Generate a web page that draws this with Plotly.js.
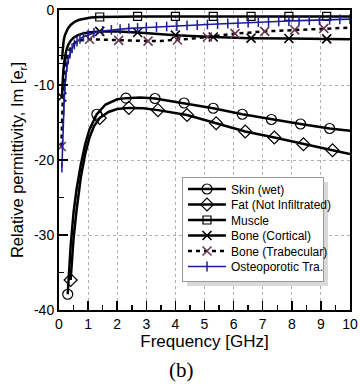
<!DOCTYPE html>
<html>
<head>
<meta charset="utf-8">
<script src="https://cdn.plot.ly/plotly-3.0.1.min.js"></script>
<style>html,body{margin:0;padding:0;background:#fff;}#chart{width:360px;height:391px;}</style>
</head>
<body>
<div id="chart"></div>
<script>
// ---- data ----
const seriesNames = ["Skin (wet)", "Fat (Not Infiltrated)", "Muscle", "Bone (Cortical)", "Bone (Trabecular)", "Osteoporotic Tra."];

const skinFreq = [0.3, 0.35, 0.4, 0.5, 0.6, 0.75, 0.9, 1.05, 1.3, 1.6, 2.0, 2.3, 2.8, 3.3, 4.3, 5.3, 6.3, 7.3, 8.3, 9.3, 10];
const skinIm   = [-37.9, -34.5, -31.5, -27.0, -24.0, -20.6, -17.9, -15.9, -13.9, -12.6, -11.9, -11.75, -11.65, -11.8, -12.4, -13.1, -13.9, -14.6, -15.2, -15.8, -16.1];
const skinMarkFreq = [0.3, 1.3, 2.3, 3.3, 4.3, 5.3, 6.3, 7.3, 8.3, 9.3];

const fatFreq = [0.4, 0.45, 0.5, 0.6, 0.75, 0.9, 1.05, 1.2, 1.4, 1.7, 2.0, 2.4, 2.9, 3.4, 4.4, 5.4, 6.4, 7.4, 8.4, 9.4, 10];
const fatIm   = [-36.0, -33.0, -30.5, -26.8, -22.3, -19.2, -17.0, -15.5, -14.4, -13.6, -13.2, -13.05, -13.1, -13.35, -14.0, -15.1, -16.2, -17.0, -17.9, -18.7, -19.2];
const fatMarkFreq = [0.4, 1.4, 2.4, 3.4, 4.4, 5.4, 6.4, 7.4, 8.4, 9.4];

const muscleFreq = [0.1, 0.13, 0.16, 0.2, 0.25, 0.3, 0.4, 0.55, 0.7, 0.9, 1.1, 1.4, 2.0, 2.7, 4.0, 5.3, 6.6, 7.9, 9.2, 10];
const muscleIm   = [-6.6, -5.0, -4.1, -3.4, -2.9, -2.5, -2.0, -1.55, -1.3, -1.12, -1.0, -0.93, -0.88, -0.86, -0.85, -0.85, -0.85, -0.85, -0.85, -0.85];
const muscleMarkFreq = [0.1, 1.4, 2.7, 4.0, 5.3, 6.6, 7.9, 9.2];

const cortFreq = [0.1, 0.12, 0.15, 0.2, 0.25, 0.32, 0.4, 0.5, 0.65, 0.8, 1.0, 1.4, 2.0, 2.7, 4.0, 5.3, 6.6, 7.9, 9.2, 10];
const cortIm   = [-11.6, -9.8, -8.0, -6.4, -5.4, -4.6, -4.1, -3.7, -3.35, -3.15, -3.0, -2.85, -2.85, -3.0, -3.35, -3.6, -3.75, -3.8, -3.85, -3.9];
const cortMarkFreq = [0.1, 1.4, 2.7, 4.0, 5.3, 6.6, 7.9, 9.2];

const trabFreq = [0.08, 0.1, 0.13, 0.17, 0.22, 0.28, 0.35, 0.45, 0.6, 0.8, 1.05, 1.5, 2.05, 2.5, 3.06, 3.5, 4.07, 4.6, 5.1, 5.6, 6.05, 7.07, 8.1, 9.1, 10];
const trabIm   = [-18.2, -15.0, -12.0, -9.5, -7.6, -6.3, -5.4, -4.7, -4.2, -4.0, -3.9, -3.95, -4.05, -4.1, -4.15, -4.12, -4.0, -3.8, -3.6, -3.35, -3.15, -2.85, -2.65, -2.45, -2.35];
const trabMarkFreq = [0.08, 1.05, 2.05, 3.06, 4.07, 5.1, 6.05, 7.07, 8.1, 9.1];

const osteoFreq = [0.1, 0.12, 0.14, 0.16, 0.18, 0.2, 0.23, 0.27, 0.32, 0.38, 0.45, 0.53, 0.62, 0.72, 0.84, 1.0, 1.2, 1.5, 1.8, 2.1, 2.4, 2.7, 3.0, 3.35, 3.7, 4.05, 4.4, 4.75, 5.1, 5.45, 5.8, 6.15, 6.5, 6.85, 7.2, 7.55, 7.9, 8.25, 8.6, 8.95, 9.3, 9.65, 10];
const osteoIm   = [-21.0, -18.0, -15.5, -13.5, -11.8, -10.3, -8.8, -7.6, -6.6, -5.8, -5.1, -4.6, -4.2, -3.85, -3.55, -3.3, -3.05, -2.8, -2.65, -2.55, -2.45, -2.4, -2.33, -2.27, -2.2, -2.13, -2.06, -2.0, -1.93, -1.87, -1.8, -1.74, -1.68, -1.62, -1.57, -1.52, -1.47, -1.42, -1.38, -1.34, -1.3, -1.26, -1.22];

const xTickVals = [0, 1, 2, 3, 4, 5, 6, 7, 8, 9, 10];
const xTickText = ["0", "1", "2", "3", "4", "5", "6", "7", "8", "9", "10"];
const yTickVals = [0, -10, -20, -30, -40];
const yTickText = ["0", "-10", "-20", "-30", "-40"];

// ---- build traces ----
const FONT = "Liberation Sans, Arial, sans-serif";
const NARROW = "Liberation Sans Narrow, Arial Narrow, Liberation Sans, sans-serif";
function pick(fx, fy, marks) {
  const xs = [], ys = [];
  fx.forEach((f, i) => { if (marks.includes(f)) { xs.push(f); ys.push(fy[i]); } });
  return {xs, ys};
}
const traces = [];
function addSeries(name, fx, fy, marks, lineStyle, markerStyle) {
  traces.push({x: fx, y: fy, type: "scatter", mode: "lines", line: lineStyle, showlegend: false, hoverinfo: "skip"});
  const m = marks ? pick(fx, fy, marks) : {xs: fx, ys: fy};
  traces.push({x: m.xs, y: m.ys, type: "scatter", mode: "markers", marker: markerStyle, showlegend: false, hoverinfo: "skip"});
  traces.push({x: [null], y: [null], type: "scatter", mode: "lines+markers", name: name, line: lineStyle, marker: markerStyle, showlegend: true});
}
const blk = {color: "#000", width: 2.5};
addSeries(seriesNames[0], skinFreq, skinIm, skinMarkFreq, blk, {symbol: "circle-open", size: 10, color: "#000", line: {width: 1.2, color: "#000"}});
addSeries(seriesNames[1], fatFreq, fatIm, fatMarkFreq, blk, {symbol: "diamond-open", size: 10, color: "#000", line: {width: 1.2, color: "#000"}});
addSeries(seriesNames[2], muscleFreq, muscleIm, muscleMarkFreq, blk, {symbol: "square-open", size: 8, color: "#000", line: {width: 1.2, color: "#000"}});
addSeries(seriesNames[3], cortFreq, cortIm, cortMarkFreq, blk, {symbol: "x-thin-open", size: 9, color: "#000", line: {width: 1.6, color: "#000"}});
addSeries(seriesNames[4], trabFreq, trabIm, trabMarkFreq, {color: "#000", width: 2.5, dash: "4px,4px"}, {symbol: "x-thin-open", size: 9, color: "#6a3450", line: {width: 1.5, color: "#6a3450"}});
addSeries(seriesNames[5], osteoFreq, osteoIm, null, {color: "#1c1c9a", width: 1.6}, {symbol: "line-ns-open", size: 7, color: "#1c1c9a", line: {width: 1.5, color: "#1c1c9a"}});

const axisCommon = {
  showline: true, linecolor: "#000", linewidth: 2, mirror: true,
  ticks: "inside", tickcolor: "#000", tickwidth: 1.5, ticklen: 9,
  showgrid: true, gridcolor: "#b0b0b0", griddash: "dot", gridwidth: 1,
  zeroline: false, tickfont: {family: FONT, size: 14, color: "#000"}
};

// legend geometry in pixels (plot area: x 59..350, y 10..310)
const PL = 59, PW = 291, PT = 10, PH = 300;
const legLeft = 182, legTop = 177, legW = 141, legH = 104;

const layout = {
  width: 360, height: 391,
  margin: {l: PL, r: 360 - PL - PW, t: PT, b: 391 - PT - PH},
  paper_bgcolor: "#fff", plot_bgcolor: "#fff",
  font: {family: FONT, color: "#000"},
  xaxis: Object.assign({}, axisCommon, {
    range: [0, 10], tickvals: xTickVals, ticktext: xTickText,
    minor: {ticks: "inside", dtick: 0.5, tick0: 0, ticklen: 5, tickwidth: 1.5, tickcolor: "#000", showgrid: false},
    title: {text: "Frequency [GHz]", font: {family: FONT, size: 17, color: "#000"}, standoff: 2}
  }),
  yaxis: Object.assign({}, axisCommon, {
    range: [-40, 0], tickvals: yTickVals, ticktext: yTickText,
    minor: {ticks: "inside", dtick: 5, tick0: 0, ticklen: 5, tickwidth: 1.5, tickcolor: "#000", showgrid: false},
    title: {text: "Relative permittivity, Im [e<sub>r</sub>]", font: {family: FONT, size: 16.5, color: "#000"}, standoff: 6}
  }),
  legend: {
    x: (legLeft - PL) / PW, y: (PT + PH - legTop) / PH, xanchor: "left", yanchor: "top",
    bgcolor: "#fff", bordercolor: "#999", borderwidth: 1,
    font: {family: NARROW, size: 12, color: "#000"},
    itemwidth: 38, tracegroupgap: 0
  },
  shapes: [{
    type: "rect", xref: "paper", yref: "paper", layer: "above",
    x0: (legLeft + 5 - PL) / PW, x1: (legLeft + legW + 5 - PL) / PW,
    y0: (PT + PH - (legTop + legH + 5)) / PH, y1: (PT + PH - (legTop + 5)) / PH,
    fillcolor: "#d9d9d9", line: {width: 0}
  }],
  annotations: [{
    text: "(b)", xref: "paper", yref: "paper", x: (181 - PL) / PW, y: -(370 - PT - PH) / PH, xanchor: "center", yanchor: "middle",
    showarrow: false, font: {family: "Liberation Serif, DejaVu Serif, serif", size: 21, color: "#000"}
  }]
};

function tidyLegend(gd) {
  const leg = gd.querySelector(".legend");
  if (!leg) return;
  const bg = leg.querySelector("rect.bg");
  if (bg) { bg.setAttribute("height", legH); bg.setAttribute("width", legW); }
  const items = leg.querySelectorAll(".traces");
  items.forEach((g, i) => {
    const t = g.getAttribute("transform") || "";
    const m = t.match(/translate\(\s*([-\d.]+)[ ,]+([-\d.]+)/);
    const tx = m ? parseFloat(m[1]) : 1;
    g.setAttribute("transform", "translate(" + tx + "," + (12 + i * 15.5) + ")");
    g.querySelectorAll(".legendlines path").forEach(p => p.setAttribute("d", "M5,0h38"));
    g.querySelectorAll(".legendpoints path").forEach(p => p.setAttribute("transform", "translate(24,0)"));
    const txt = g.querySelector("text.legendtext");
    if (txt) txt.setAttribute("x", 48);
  });
}

Plotly.newPlot("chart", traces, layout, {displayModeBar: false, staticPlot: true}).then(tidyLegend);
</script>
</body>
</html>
